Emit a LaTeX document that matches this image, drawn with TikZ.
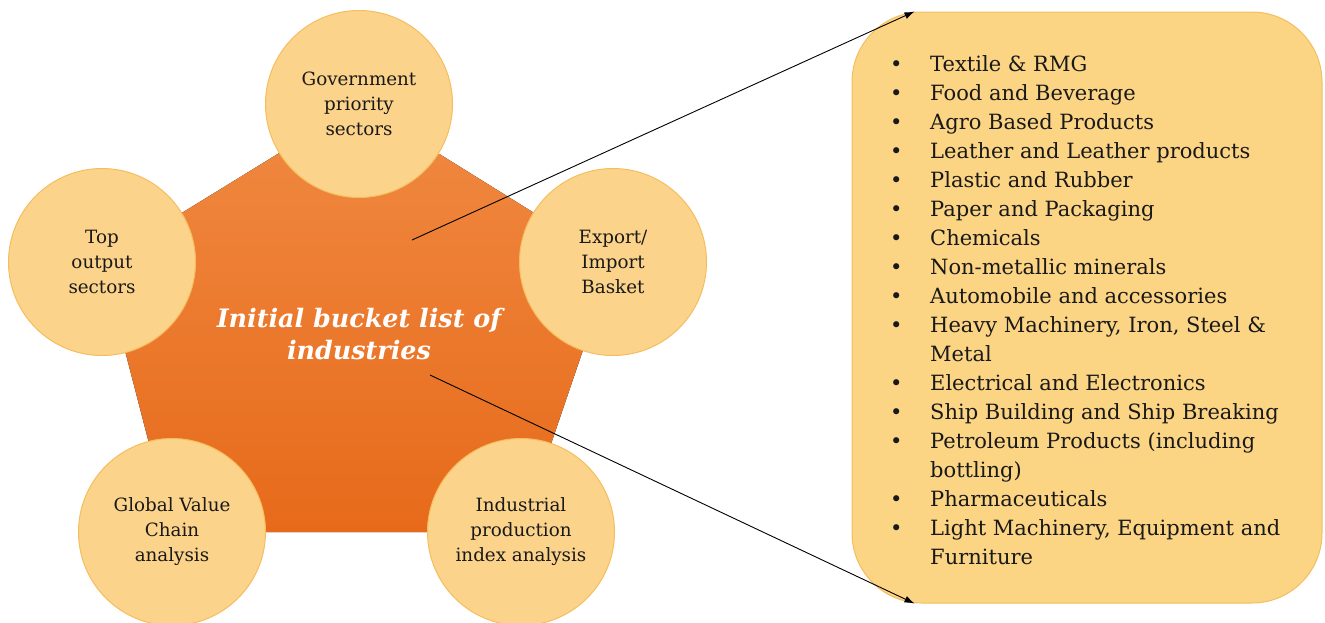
\documentclass[tikz,border=0pt]{standalone}
\usepackage{fontspec}
\setmainfont{DejaVu Serif}
\usetikzlibrary{shapes,backgrounds,arrows.meta}

\definecolor{petalfill}{RGB}{252,211,138}
\definecolor{petaledge}{RGB}{244,190,95}
\definecolor{coretop}{RGB}{240,138,66}
\definecolor{corebot}{RGB}{231,106,26}
\definecolor{listfill}{RGB}{251,212,132}

\tikzset{
	petal/.style={circle, minimum size=187pt, inner sep=0pt, fill=petalfill, draw=petaledge, line width=1pt,
		align=center, text=black!90, font=\fontsize{18.3}{25}\selectfont},
	feed/.style={-{Latex[length=10pt,width=7pt]}, line width=0.9pt},
}

\begin{document}
\begin{tikzpicture}[x=1pt,y=-1pt]
	\useasboundingbox (0,0) rectangle (1325,622);
	% five sources on the corners of the pentagon
	\node[petal] (gov) at (359,104) {Government\\priority\\sectors};
	\node[petal] (out) at (102,262) {Top\\output\\sectors};
	\node[petal] (exim) at (613,262) {Export/\\Import\\Basket};
	\node[petal] (gvc) at (172,532) {Global Value\\Chain\\analysis};
	\node[petal] (ipi) at (521,532) {Industrial\\production\\index analysis};
	\begin{scope}[on background layer]
	\fill[top color=coretop, bottom color=corebot] (gov.center) -- (exim.center) -- (ipi.center)
		-- (gvc.center) -- (out.center) -- cycle;   % the pentagon behind the circles
	\end{scope}
	\node[text=white, align=center, font=\bfseries\itshape\fontsize{25.4}{32}\selectfont] (core) at (359,334)
		{Initial bucket list of\\industries};
	% the list of industries
	\node[rectangle, rounded corners=70pt, fill=listfill, draw=petaledge, line width=1pt,
		minimum width=470pt, minimum height=591pt] (bucket) at (1087,307.5) {};
	\node[anchor=north west, inner sep=0pt, text=black!90, font=\fontsize{21}{29}\selectfont] (items) at (890,51) {%
		\begin{tabular}{@{}p{40pt}@{}l@{}}
		\textbullet & Textile \& RMG\\
		\textbullet & Food and Beverage\\
		\textbullet & Agro Based Products\\
		\textbullet & Leather and Leather products\\
		\textbullet & Plastic and Rubber\\
		\textbullet & Paper and Packaging\\
		\textbullet & Chemicals\\
		\textbullet & Non-metallic minerals\\
		\textbullet & Automobile and accessories\\
		\textbullet & Heavy Machinery, Iron, Steel \&\\
		& Metal\\
		\textbullet & Electrical and Electronics\\
		\textbullet & Ship Building and Ship Breaking\\
		\textbullet & Petroleum Products (including\\
		& bottling)\\
		\textbullet & Pharmaceuticals\\
		\textbullet & Light Machinery, Equipment and\\
		& Furniture
		\end{tabular}};
	\coordinate (from1) at (412,240);
	\coordinate (from2) at (430,375);
	\draw[feed] (from1) -- ([xshift=63pt]bucket.north west);
	\draw[feed] (from2) -- ([xshift=63pt]bucket.south west);
\end{tikzpicture}
\end{document}
